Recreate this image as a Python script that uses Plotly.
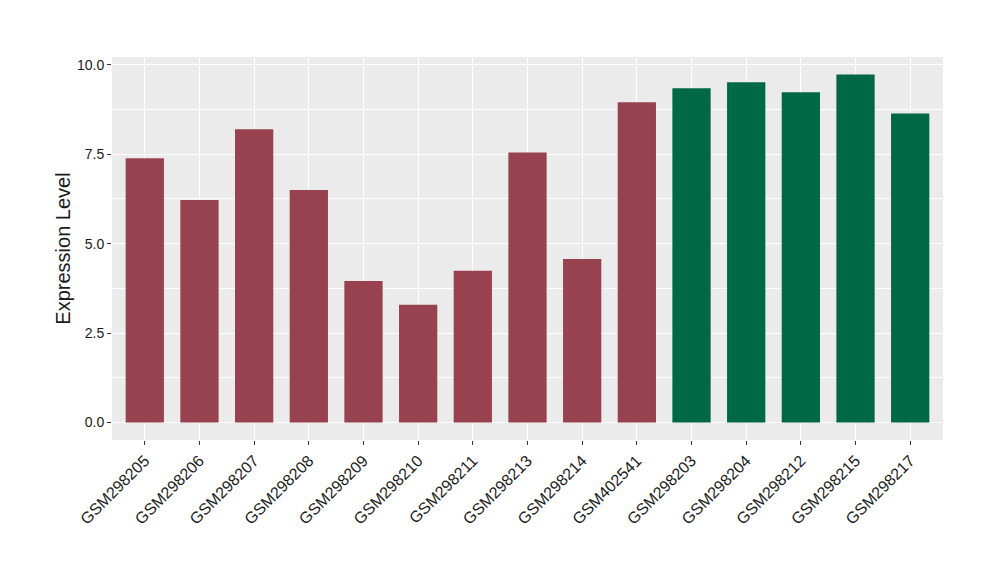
import plotly.graph_objects as go

samples = ["GSM298205", "GSM298206", "GSM298207", "GSM298208", "GSM298209",
           "GSM298210", "GSM298211", "GSM298213", "GSM298214", "GSM402541",
           "GSM298203", "GSM298204", "GSM298212", "GSM298215", "GSM298217"]
values = [7.39, 6.22, 8.20, 6.50, 3.96, 3.29, 4.24, 7.55, 4.57, 8.95,
          9.34, 9.51, 9.23, 9.73, 8.64]
groups = ["a"] * 10 + ["b"] * 5
group_colors = {"a": "#99424F", "b": "#006845"}

y_ticks = [0.0, 2.5, 5.0, 7.5, 10.0]
y_tick_labels = ["0.0", "2.5", "5.0", "7.5", "10.0"]

fig = go.Figure()
fig.add_trace(go.Bar(
    x=samples, y=values,
    marker=dict(color=[group_colors[g] for g in groups], line=dict(width=0)),
    showlegend=False,
))

font_family = "Liberation Sans, Arial, sans-serif"
fig.update_layout(
    width=1000, height=580,
    margin=dict(l=104, r=65, t=49, b=148, autoexpand=False),
    paper_bgcolor="white",
    plot_bgcolor="#EBEBEB",
    bargap=0.3,
    font=dict(family=font_family, color="#1A1A1A"),
    xaxis=dict(
        type="category",
        range=[-0.6, len(samples) - 0.4],
        tickangle=-45,
        tickfont=dict(size=16, color="#1A1A1A"),
        showgrid=True, gridcolor="white", gridwidth=1.1,
        ticks="outside", ticklen=4, tickcolor="#333333", tickwidth=1,
        zeroline=False, showline=False, automargin=False,
    ),
    yaxis=dict(
        range=[-0.4865, 10.216],
        tickvals=y_ticks, ticktext=y_tick_labels,
        tickfont=dict(size=14, color="#1A1A1A"),
        showgrid=True, gridcolor="white", gridwidth=1.1,
        minor=dict(tickvals=[1.25, 3.75, 6.25, 8.75], showgrid=True,
                   gridcolor="white", gridwidth=0.5, ticks=""),
        ticks="outside", ticklen=4, tickcolor="#333333", tickwidth=1,
        zeroline=False, showline=False, automargin=False,
        title=dict(text="Expression Level", font=dict(size=20, color="#1A1A1A"), standoff=0),
    ),
)

fig.write_html("out.html")
